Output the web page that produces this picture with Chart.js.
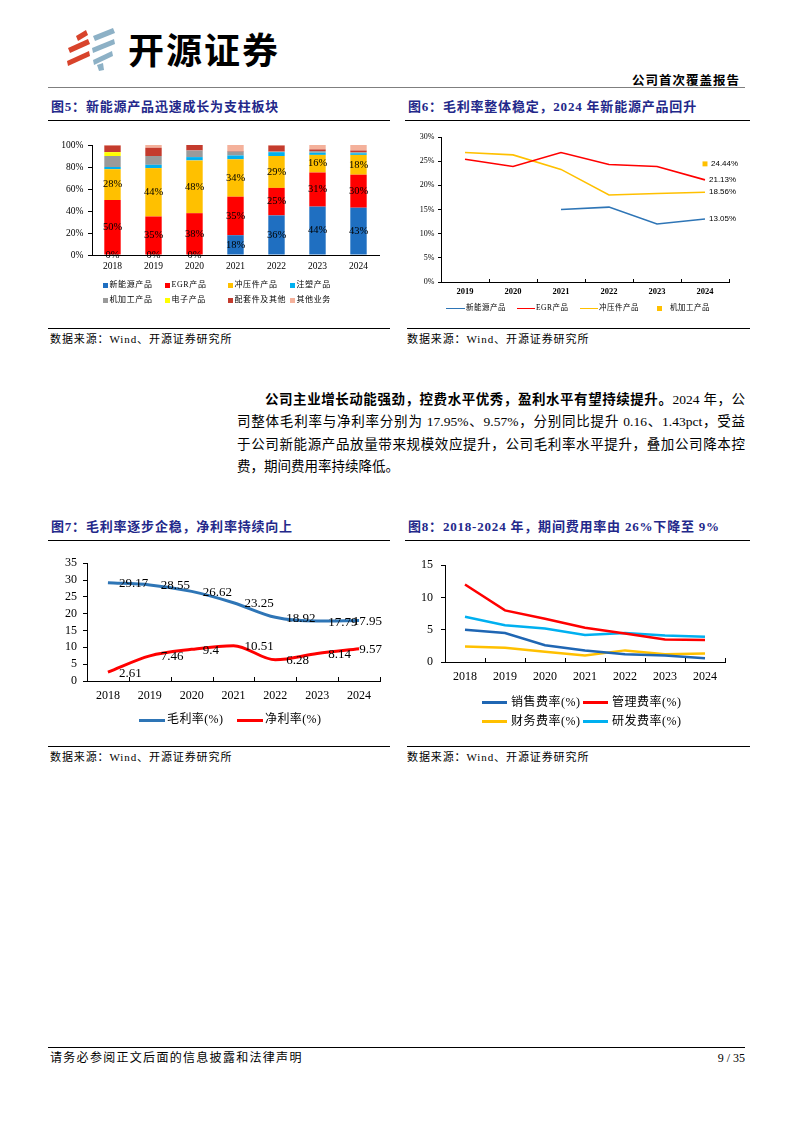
<!DOCTYPE html>
<html lang="zh-CN">
<head>
<meta charset="utf-8">
<title>开源证券 公司首次覆盖报告</title>
<script src="https://cdn.jsdelivr.net/npm/chart.js@4.4.1/dist/chart.umd.min.js"></script>
<style>
html,body{margin:0;padding:0;background:#fff;}
body{width:794px;height:1123px;position:relative;overflow:hidden;font-family:"Liberation Serif","Noto Sans CJK SC",serif;color:#000;}
.a{position:absolute;}
.t{position:absolute;white-space:nowrap;line-height:1;}
.hl{position:absolute;height:0;}
.title{position:absolute;white-space:nowrap;line-height:1;font-size:13px;font-weight:bold;color:#23288a;letter-spacing:0.8px;}
.src{position:absolute;white-space:nowrap;line-height:1;font-size:11px;letter-spacing:0.9px;}
.para{position:absolute;left:237px;width:508px;font-size:13.5px;line-height:1;}
.para div{position:absolute;left:0;width:508px;text-align:justify;text-align-last:justify;}
canvas{display:block;}
</style>
</head>
<body>

<!-- logo -->
<svg class="a" style="left:60px;top:22px" width="62" height="54" viewBox="60 22 62 54">
  <polygon points="76,36 86,30 88,35 78,41" fill="#d8432b"/>
  <polygon points="68,48 88,39 90,44 70,53" fill="#d8432b"/>
  <polygon points="67,61 89,51 90,56 68,66" fill="#d8432b"/>
  <polygon points="93,36 113,28 115,33 95,41" fill="#8db1c6"/>
  <polygon points="92,48 114,39 115,44 93,53" fill="#8db1c6"/>
  <polygon points="93,60 112,51 113,56 94,65" fill="#8db1c6"/>
  <polygon points="97,65 103,63 104,70 99,71" fill="#8db1c6"/>
</svg>
<div class="t" style="left:128px;top:30px;font-family:'Noto Sans CJK SC';font-size:36px;font-weight:bold;letter-spacing:2px;">开源证券</div>
<div class="t" style="right:54px;top:75px;font-size:12.5px;font-weight:bold;letter-spacing:1px;">公司首次覆盖报告</div>
<div class="hl" style="left:48px;top:87px;width:697px;border-top:1.5px solid #7f7f7f;"></div>

<!-- figure titles row 1 -->
<div class="title" style="left:51px;top:99.5px;">图5：新能源产品迅速成长为支柱板块</div>
<div class="title" style="left:408px;top:99.5px;">图6：毛利率整体稳定，2024 年新能源产品回升</div>
<div class="hl" style="left:48px;top:120px;width:342px;border-top:1.5px solid #000;"></div>
<div class="hl" style="left:405px;top:120px;width:345px;border-top:1.5px solid #000;"></div>

<div class="a" style="left:45px;top:130px;"><canvas id="c5" width="345" height="150"></canvas></div>
<div class="a" style="left:405px;top:128px;"><canvas id="c6" width="345" height="170"></canvas></div>

<div class="hl" style="left:48px;top:328px;width:342px;border-top:1.5px solid #000;"></div>
<div class="hl" style="left:407px;top:328px;width:343px;border-top:1.5px solid #000;"></div>
<div class="src" style="left:50px;top:334px;">数据来源：Wind、开源证券研究所</div>
<div class="src" style="left:407px;top:334px;">数据来源：Wind、开源证券研究所</div>

<!-- paragraph -->
<div class="para">
  <div style="top:392.6px;left:28px;width:480px;"><b>公司主业增长动能强劲，控费水平优秀，盈利水平有望持续提升。</b>2024 年，公</div>
  <div style="top:415.1px;">司整体毛利率与净利率分别为 17.95%、9.57%，分别同比提升 0.16、1.43pct，受益</div>
  <div style="top:437.6px;">于公司新能源产品放量带来规模效应提升，公司毛利率水平提升，叠加公司降本控</div>
  <div style="top:460.1px;text-align-last:left;">费，期间费用率持续降低。</div>
</div>

<!-- figure titles row 2 -->
<div class="title" style="left:51px;top:519.5px;">图7：毛利率逐步企稳，净利率持续向上</div>
<div class="title" style="left:408px;top:519.5px;">图8：2018-2024 年，期间费用率由 26%下降至 9%</div>
<div class="hl" style="left:48px;top:540px;width:342px;border-top:1.5px solid #000;"></div>
<div class="hl" style="left:405px;top:540px;width:345px;border-top:1.5px solid #000;"></div>

<div class="a" style="left:45px;top:550px;"><canvas id="c7" width="345" height="160"></canvas></div>
<div class="a" style="left:405px;top:550px;"><canvas id="c8" width="345" height="140"></canvas></div>

<div class="hl" style="left:48px;top:746px;width:342px;border-top:1.5px solid #000;"></div>
<div class="hl" style="left:407px;top:746px;width:343px;border-top:1.5px solid #000;"></div>
<div class="src" style="left:50px;top:752px;">数据来源：Wind、开源证券研究所</div>
<div class="src" style="left:407px;top:752px;">数据来源：Wind、开源证券研究所</div>

<!-- footer -->
<div class="hl" style="left:48px;top:1047px;width:697px;border-top:1.5px solid #000;"></div>
<div class="t" style="left:50px;top:1051.5px;font-size:12px;letter-spacing:1.3px;">请务必参阅正文后面的信息披露和法律声明</div>
<div class="t" style="right:49px;top:1051.5px;font-size:12px;">9 / 35</div>

<script>
// ================= DATA =================
// Figure 5: revenue structure (%)
const fig5Years = ['2018','2019','2020','2021','2022','2023','2024'];
const fig5SeriesNames = ['新能源产品','EGR产品','冲压件产品','注塑产品','机加工产品','电子产品','配套件及其他','其他业务'];
const newEnergyShare   = [0, 0, 0, 18, 36, 44, 43];
const egrShare         = [50, 35, 38, 35, 25, 31, 30];
const stampingShare    = [28, 44, 48, 34, 29, 16, 18];
const injectionShare   = [2, 3, 3, 3.5, 3.5, 2, 1.5];
const machiningShare   = [10, 8, 6, 3.5, 0.5, 1.5, 1];
const electronicsShare = [3.5, 0, 0, 0, 0, 0, 0];
const accessoriesShare = [6, 7.5, 5, 0.5, 5.5, 1.5, 1.5];
const otherShare       = [0.5, 2.5, 0, 5.5, 0.5, 4, 5];
const fig5LabeledSeries = [0, 1, 2];

// Figure 6: gross margin by product (%)
const fig6Years = ['2019','2020','2021','2022','2023','2024'];
const fig6SeriesNames = ['新能源产品','EGR产品','冲压件产品','机加工产品'];
const newEnergyMargin = [null, null, 15.0, 15.5, 12.0, 13.05];
const egrMargin       = [25.4, 23.9, 26.8, 24.3, 23.9, 21.13];
const stampingMargin  = [26.8, 26.3, 23.3, 18.0, 18.3, 18.56];
const machiningMargin = [null, null, null, null, null, 24.44];

// Figure 7: gross / net margin (%)
const fig7Years = ['2018','2019','2020','2021','2022','2023','2024'];
const fig7SeriesNames = ['毛利率(%)','净利率(%)'];
const grossMargin = [29.17, 28.55, 26.62, 23.25, 18.92, 17.79, 17.95];
const netMargin   = [2.61, 7.46, 9.4, 10.51, 6.28, 8.14, 9.57];

// Figure 8: expense ratios (%)
const fig8Years = ['2018','2019','2020','2021','2022','2023','2024'];
const fig8SeriesNames = ['销售费率(%)','管理费率(%)','财务费率(%)','研发费率(%)'];
const sellingRate = [5.0, 4.5, 2.6, 1.8, 1.2, 1.0, 0.6];
const adminRate   = [12.0, 8.0, 6.7, 5.3, 4.4, 3.5, 3.4];
const financeRate = [2.4, 2.2, 1.6, 1.0, 1.8, 1.2, 1.3];
const rdRate      = [7.0, 5.7, 5.2, 4.2, 4.5, 4.1, 3.9];

// ================= STYLES =================
const fig5Colors = ['#1f6fc1','#ff0000','#ffc000','#00b0f0','#9a9a9a','#ffff00','#c43b2d','#f4b19b'];
const fig6Colors = ['#2e75b6','#ff0000','#ffc000','#ffc000'];
const fig7Colors = ['#2e75b6','#ff0000'];
const fig8Colors = ['#1f66b3','#ff0000','#ffc000','#00b0f0'];

Chart.defaults.font.family = '"Liberation Serif","Noto Sans CJK SC",serif';
Chart.defaults.color = '#000';
Chart.defaults.animation = false;

// ================= PLUGINS =================
const barLabels = {
  id: 'barLabels',
  afterDatasetsDraw(chart, args, opts) {
    const ctx = chart.ctx;
    ctx.save();
    ctx.font = opts.font;
    ctx.fillStyle = '#000';
    ctx.textAlign = 'center';
    ctx.textBaseline = 'middle';
    chart.data.datasets.forEach((ds, i) => {
      if (!ds.showValue) return;
      chart.getDatasetMeta(i).data.forEach((el, j) => {
        ctx.fillText(ds.data[j] + '%', el.x, (el.y + el.base) / 2);
      });
    });
    ctx.restore();
  }
};

const pointLabels = {
  id: 'pointLabels',
  afterDatasetsDraw(chart, args, opts) {
    const { ctx, chartArea } = chart;
    ctx.save();
    ctx.font = opts.font;
    ctx.fillStyle = '#000';
    ctx.textAlign = 'left';
    ctx.textBaseline = 'middle';
    chart.data.datasets.forEach((ds, i) => {
      if (!ds.valueLabels) return;
      const meta = chart.getDatasetMeta(i);
      meta.data.forEach((el, j) => {
        const v = ds.data[j];
        if (v == null) return;
        if (ds.valueLabels === 'last' && j !== ds.data.length - 1) return;
        const txt = opts.format(v);
        const w = ctx.measureText(txt).width;
        let x = el.x + (ds.labelDx != null ? ds.labelDx : opts.dx);
        if (opts.clampRight != null) x = Math.min(x, chartArea.right + opts.clampRight - w);
        ctx.fillText(txt, x, el.y + opts.dy);
      });
    });
    ctx.restore();
  }
};

const innerTicks = {
  id: 'innerTicks',
  afterDraw(chart, args, opts) {
    if (!opts || !opts.len) return;
    const xs = chart.scales.x, ctx = chart.ctx, y0 = chart.chartArea.bottom;
    const n = chart.data.labels.length;
    const step = xs.getPixelForValue(1) - xs.getPixelForValue(0);
    ctx.save();
    ctx.strokeStyle = '#000';
    ctx.lineWidth = 1;
    for (let i = 0; i < n; i++) {
      const px = Math.round(xs.getPixelForValue(i) + step / 2) + 0.5;
      ctx.beginPath();
      ctx.moveTo(px, y0);
      ctx.lineTo(px, y0 - opts.len);
      ctx.stroke();
    }
    ctx.restore();
  }
};

function yAxis(opts) {
  return Object.assign({
    grid: { drawOnChartArea: false, drawTicks: true, tickLength: opts.tl, color: '#000' },
    border: { display: true, color: '#000' },
    afterFit(s) { s.width = opts.w; }
  }, opts.extra);
}

// ================= FIGURE 5 =================
const fig5Data = [newEnergyShare, egrShare, stampingShare, injectionShare, machiningShare, electronicsShare, accessoriesShare, otherShare];
new Chart(document.getElementById('c5'), {
  type: 'bar',
  data: {
    labels: fig5Years,
    datasets: fig5Data.map((d, i) => ({
      label: fig5SeriesNames[i],
      data: d,
      backgroundColor: fig5Colors[i],
      borderWidth: 0,
      barPercentage: 0.4,
      categoryPercentage: 1,
      showValue: fig5LabeledSeries.includes(i)
    }))
  },
  options: {
    responsive: false,
    layout: { padding: { left: 0, right: 11, top: 15, bottom: 0 } },
    plugins: { legend: { display: false }, tooltip: { enabled: false },
      barLabels: { font: '10.5px "Liberation Serif"' } },
    scales: {
      x: { stacked: true, grid: { display: false, drawTicks: false },
           border: { display: true, color: '#000' },
           ticks: { font: { size: 9.5 }, padding: 5.3 },
           afterFit(s) { s.height = 25; } },
      y: yAxis({ w: 47, tl: 4, extra: { stacked: true, min: 0, max: 100,
           ticks: { stepSize: 20, autoSkip: false, padding: 4.5, font: { size: 9.5 }, callback: v => v + '%' } } })
    }
  },
  plugins: [barLabels]
});

// ================= FIGURE 6 =================
const fig6Data = [newEnergyMargin, egrMargin, stampingMargin, machiningMargin];
new Chart(document.getElementById('c6'), {
  type: 'line',
  data: {
    labels: fig6Years,
    datasets: fig6Data.map((d, i) => {
      const ds = { label: fig6SeriesNames[i], data: d, borderColor: fig6Colors[i],
        backgroundColor: fig6Colors[i], borderWidth: 1.6, pointRadius: 0, tension: 0,
        valueLabels: 'last' };
      if (i === 3) Object.assign(ds, { showLine: false, pointStyle: 'rect', pointRadius: 3.5,
        pointBorderWidth: 0, pointBackgroundColor: fig6Colors[i], labelDx: 6 });
      return ds;
    })
  },
  options: {
    responsive: false,
    layout: { padding: { left: 0, right: 21, top: 9, bottom: 0 } },
    plugins: { legend: { display: false }, tooltip: { enabled: false },
      pointLabels: { font: '8px "Liberation Sans"', dx: 4, dy: 0, format: v => v.toFixed(2) + '%' },
      innerTicks: { len: 3 } },
    scales: {
      x: { offset: true, grid: { display: false, drawTicks: false },
           border: { display: true, color: '#000' },
           ticks: { font: { size: 8.5, weight: 'bold' }, padding: 4.6 },
           afterFit(s) { s.height = 16; } },
      y: yAxis({ w: 36, tl: 3, extra: { min: 0, max: 30,
           ticks: { stepSize: 5, autoSkip: false, padding: 3.5, font: { size: 8 }, callback: v => v + '%' } } })
    }
  },
  plugins: [pointLabels, innerTicks]
});

// ================= FIGURE 7 =================
const fig7Data = [grossMargin, netMargin];
new Chart(document.getElementById('c7'), {
  type: 'line',
  data: {
    labels: fig7Years,
    datasets: fig7Data.map((d, i) => ({
      label: fig7SeriesNames[i], data: d, borderColor: fig7Colors[i],
      borderWidth: 3, pointRadius: 0, cubicInterpolationMode: 'monotone', valueLabels: 'all'
    }))
  },
  options: {
    responsive: false,
    layout: { padding: { left: 0, right: 10, top: 13, bottom: 0 } },
    plugins: { legend: { display: false }, tooltip: { enabled: false },
      pointLabels: { font: '13px "Liberation Serif"', dx: 11, dy: 1, clampRight: 2, format: v => String(v) },
      innerTicks: { len: 4 } },
    scales: {
      x: { offset: true, grid: { display: false, drawTicks: false },
           border: { display: true, color: '#000' },
           ticks: { font: { size: 12 }, padding: 7.8 },
           afterFit(s) { s.height = 29; } },
      y: yAxis({ w: 42, tl: 4, extra: { min: 0, max: 35,
           ticks: { stepSize: 5, autoSkip: false, padding: 6, font: { size: 12 } } } })
    }
  },
  plugins: [pointLabels, innerTicks]
});

// ================= FIGURE 8 =================
const fig8Data = [sellingRate, adminRate, financeRate, rdRate];
new Chart(document.getElementById('c8'), {
  type: 'line',
  data: {
    labels: fig8Years,
    datasets: fig8Data.map((d, i) => ({
      label: fig8SeriesNames[i], data: d, borderColor: fig8Colors[i],
      borderWidth: 2.5, pointRadius: 0, tension: 0
    }))
  },
  options: {
    responsive: false,
    layout: { padding: { left: 0, right: 25, top: 13, bottom: 0 } },
    plugins: { legend: { display: false }, tooltip: { enabled: false },
      innerTicks: { len: 4 } },
    scales: {
      x: { offset: true, grid: { display: false, drawTicks: false },
           border: { display: true, color: '#000' },
           ticks: { font: { size: 12 }, padding: 7.5 },
           afterFit(s) { s.height = 28; } },
      y: yAxis({ w: 40, tl: 4, extra: { min: 0, max: 15,
           ticks: { stepSize: 5, autoSkip: false, padding: 8, font: { size: 12 } } } })
    }
  },
  plugins: [innerTicks]
});

// ================= LEGENDS (HTML) =================
function addLegend(items) {
  items.forEach(it => {
    const m = document.createElement('div');
    m.className = 'a';
    if (it.kind === 'rect') {
      m.style.cssText = `left:${it.mx}px;top:${it.y - it.ms / 2}px;width:${it.ms}px;height:${it.ms}px;background:${it.color};`;
    } else {
      m.style.cssText = `left:${it.mx}px;top:${it.y - it.lw / 2}px;width:${it.ml}px;height:${it.lw}px;background:${it.color};`;
    }
    document.body.appendChild(m);
    const t = document.createElement('div');
    t.className = 't';
    t.textContent = it.name;
    t.style.cssText = `left:${it.tx}px;top:${it.y - it.fs * 0.55}px;font-size:${it.fs}px;letter-spacing:${it.ls}px;`;
    document.body.appendChild(t);
  });
}

// Fig 5 legend: 2 rows x 4
const l5x = [103, 165, 228, 290];
const l5y = [285, 300.7];
addLegend(fig5SeriesNames.map((n, i) => ({
  name: n, color: fig5Colors[i], kind: 'rect', ms: 5,
  mx: l5x[i % 4], tx: l5x[i % 4] + 6.5, y: l5y[Math.floor(i / 4)], fs: 8, ls: 0.6
})));

// Fig 6 legend: single row
const l6 = [
  { kind: 'line', mx: 446, ml: 19, tx: 466 },
  { kind: 'line', mx: 517, ml: 18, tx: 536 },
  { kind: 'line', mx: 580, ml: 18, tx: 599 },
  { kind: 'rect', mx: 656.5, ms: 5, tx: 670 }
];
addLegend(fig6SeriesNames.map((n, i) => Object.assign({
  name: n, color: fig6Colors[i], lw: 1.6, y: 308.3, fs: 7.5, ls: 0.5
}, l6[i])));

// Fig 7 legend
const l7x = [139, 237];
addLegend(fig7SeriesNames.map((n, i) => ({
  name: n, color: fig7Colors[i], kind: 'line', mx: l7x[i], ml: 26, lw: 3,
  tx: l7x[i] + 28, y: 720, fs: 12, ls: 0.4
})));

// Fig 8 legend: 2 x 2
const l8x = [482, 583];
const l8y = [702.7, 721.7];
addLegend(fig8SeriesNames.map((n, i) => ({
  name: n, color: fig8Colors[i], kind: 'line', mx: l8x[i % 2], ml: 25, lw: 3,
  tx: l8x[i % 2] + 29, y: l8y[Math.floor(i / 2)], fs: 12, ls: 0.5
})));
</script>
</body>
</html>
